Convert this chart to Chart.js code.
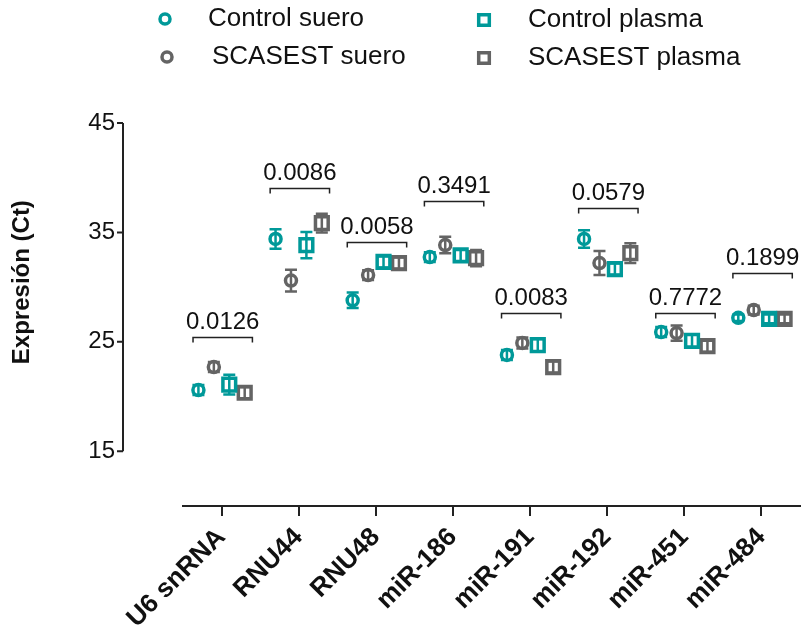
<!DOCTYPE html>
<html>
<head>
<meta charset="utf-8">
<title>Expresión (Ct)</title>
<script src="https://cdn.jsdelivr.net/npm/chart.js@4.4.1/dist/chart.umd.min.js"></script>
<style>
  html, body { margin: 0; padding: 0; background: #fff; }
</style>
</head>
<body>
<canvas id="chart" width="803" height="627"></canvas>
<script>
// datos
const categories = ['U6 snRNA', 'RNU44', 'RNU48', 'miR-186', 'miR-191', 'miR-192', 'miR-451', 'miR-484'];

const controlSuero     = [20.6, 34.4, 28.8, 32.75, 23.8, 34.4, 25.9, 27.2];
const controlSueroErr  = [0.45, 0.9, 0.7, 0.45, 0.45, 0.8, 0.45, 0.3];
const scasestSuero     = [22.7, 30.6, 31.1, 33.85, 24.9, 32.2, 25.8, 27.9];
const scasestSueroErr  = [0.45, 1.0, 0.45, 0.75, 0.5, 1.1, 0.7, 0.4];
const controlPlasma    = [21.1, 33.85, 32.3, 32.9, 24.7, 31.65, 25.1, 27.1];
const controlPlasmaErr = [0.9, 1.2, 0.5, 0.5, 0.55, 0.5, 0.55, 0.4];
const scasestPlasma    = [20.35, 35.85, 32.2, 32.65, 22.7, 33.1, 24.6, 27.1];
const scasestPlasmaErr = [0.5, 0.85, 0.5, 0.75, 0.5, 0.9, 0.5, 0.4];

// p valores y altura (en Ct) de cada corchete
const pValues  = ['0.0126', '0.0086', '0.0058', '0.3491', '0.0083', '0.0579', '0.7772', '0.1899'];
const bracketY = [25.45, 39.1, 34.1, 37.85, 27.65, 37.2, 27.6, 31.3];

const yTicks = [15, 25, 35, 45];

const TEAL = '#009999';
const GREY = '#646464';
const FONT = "'Liberation Sans', Arial, sans-serif";

const series = [
    { label: 'Control suero',   values: controlSuero,  errors: controlSueroErr,  color: TEAL, style: 'circle' },
    { label: 'SCASEST suero',   values: scasestSuero,  errors: scasestSueroErr,  color: GREY, style: 'circle' },
    { label: 'Control plasma',  values: controlPlasma, errors: controlPlasmaErr, color: TEAL, style: 'rect' },
    { label: 'SCASEST plasma',  values: scasestPlasma, errors: scasestPlasmaErr, color: GREY, style: 'rect' }
];
const offsets = [-0.3, -0.1, 0.1, 0.3];

// barras de error (media ± error)
const errorBars = {
    id: 'errorBars',
    afterDatasetsDraw(chart) {
        const ctx = chart.ctx;
        const y = chart.scales.y;
        chart.data.datasets.forEach((ds, k) => {
            const meta = chart.getDatasetMeta(k);
            ctx.save();
            ctx.strokeStyle = ds.borderColor;
            ctx.lineWidth = 2.5;
            meta.data.forEach((pt, i) => {
                const v = ds.data[i].y;
                const e = ds.errors[i];
                const top = y.getPixelForValue(v + e);
                const bot = y.getPixelForValue(v - e);
                ctx.beginPath();
                ctx.moveTo(pt.x, top);
                ctx.lineTo(pt.x, bot);
                ctx.moveTo(pt.x - 6, top);
                ctx.lineTo(pt.x + 6, top);
                ctx.moveTo(pt.x - 6, bot);
                ctx.lineTo(pt.x + 6, bot);
                ctx.stroke();
            });
            ctx.restore();
        });
    }
};

// corchetes con el p valor
const brackets = {
    id: 'brackets',
    afterDatasetsDraw(chart) {
        const ctx = chart.ctx;
        const x = chart.scales.x;
        const y = chart.scales.y;
        ctx.save();
        ctx.strokeStyle = '#222';
        ctx.lineWidth = 1.5;
        ctx.fillStyle = '#111';
        ctx.font = '24px ' + FONT;
        ctx.textAlign = 'center';
        ctx.textBaseline = 'alphabetic';
        pValues.forEach((p, i) => {
            const x0 = x.getPixelForValue(i - 0.37);
            const x1 = x.getPixelForValue(i + 0.4);
            const yy = Math.round(y.getPixelForValue(bracketY[i])) + 0.5;
            ctx.beginPath();
            ctx.moveTo(x0, yy + 5);
            ctx.lineTo(x0, yy);
            ctx.lineTo(x1, yy);
            ctx.lineTo(x1, yy + 5);
            ctx.stroke();
            ctx.fillText(p, (x0 + x1) / 2, yy - 9);
        });
        ctx.restore();
    }
};

// eje Y separado (estilo Prism), título y leyenda
const decorations = {
    id: 'decorations',
    afterDraw(chart) {
        const ctx = chart.ctx;
        const y = chart.scales.y;
        const ax = chart.chartArea.left - 60;
        ctx.save();
        ctx.strokeStyle = '#222';
        ctx.lineWidth = 2;
        ctx.beginPath();
        ctx.moveTo(ax, y.getPixelForValue(yTicks[0]));
        ctx.lineTo(ax, y.getPixelForValue(yTicks[yTicks.length - 1]));
        yTicks.forEach(t => {
            const py = y.getPixelForValue(t);
            ctx.moveTo(ax - 6, py);
            ctx.lineTo(ax, py);
        });
        ctx.stroke();

        ctx.fillStyle = '#111';
        ctx.font = 'bold 24px ' + FONT;
        ctx.textAlign = 'center';
        ctx.textBaseline = 'middle';
        ctx.translate(22, (y.getPixelForValue(yTicks[0]) + y.getPixelForValue(yTicks[yTicks.length - 1])) / 2 - 5);
        ctx.rotate(-Math.PI / 2);
        ctx.fillText('Expresión (Ct)', 0, 0);
        ctx.restore();

        // leyenda 2x2
        const spots = [
            { mx: 165, tx: 208, y: 19 },
            { mx: 167, tx: 212, y: 57 },
            { mx: 484, tx: 528, y: 20 },
            { mx: 484, tx: 528, y: 58 }
        ];
        ctx.save();
        ctx.font = '26px ' + FONT;
        ctx.textAlign = 'left';
        ctx.textBaseline = 'middle';
        chart.data.datasets.forEach((ds, k) => {
            const s = spots[k];
            ctx.strokeStyle = ds.borderColor;
            ctx.fillStyle = '#fff';
            ctx.lineWidth = 3.5;
            Chart.helpers.drawPoint(ctx, {
                pointStyle: ds.pointStyle,
                radius: ds.pointStyle === 'circle' ? 5 : 7.5,
                borderWidth: 3.5,
                rotation: 0
            }, s.mx, s.y);
            ctx.fillStyle = '#111';
            ctx.fillText(ds.label, s.tx, s.y);
        });
        ctx.restore();
    }
};

new Chart(document.getElementById('chart'), {
    type: 'scatter',
    data: {
        datasets: series.map((s, k) => ({
            label: s.label,
            data: s.values.map((v, i) => ({ x: i + offsets[k], y: v })),
            errors: s.errors,
            pointStyle: s.style,
            pointRadius: s.style === 'circle' ? 5.5 : 9,
            pointHoverRadius: s.style === 'circle' ? 5.5 : 9,
            pointBorderWidth: 3.5,
            pointHoverBorderWidth: 3.5,
            borderColor: s.color,
            backgroundColor: '#fff',
            showLine: false
        }))
    },
    options: {
        responsive: false,
        animation: false,
        layout: { autoPadding: false, padding: { top: 123, right: 3, left: 0, bottom: 0 } },
        plugins: {
            legend: { display: false },
            tooltip: { enabled: false }
        },
        scales: {
            x: {
                type: 'linear',
                min: -0.5,
                max: 7.5,
                afterBuildTicks: scale => {
                    scale.ticks = categories.map((c, i) => ({ value: i }));
                },
                afterFit: scale => {
                    scale.height = 121;
                    scale.paddingLeft = 0;
                    scale.paddingRight = 0;
                },
                border: { display: true, color: '#222', width: 2 },
                grid: {
                    display: true,
                    drawOnChartArea: false,
                    drawTicks: true,
                    tickLength: 10,
                    color: '#222',
                    lineWidth: 2
                },
                ticks: {
                    autoSkip: false,
                    minRotation: 45,
                    maxRotation: 45,
                    padding: 6,
                    color: '#111',
                    font: { family: FONT, size: 26, weight: 'bold' },
                    callback: value => categories[value]
                }
            },
            y: {
                min: 10,
                max: 45,
                afterBuildTicks: scale => {
                    scale.ticks = yTicks.map(v => ({ value: v }));
                },
                afterFit: scale => { scale.width = 183; },
                border: { display: false },
                grid: { display: false, drawTicks: false },
                ticks: {
                    padding: 68,
                    color: '#111',
                    font: { family: FONT, size: 24 }
                }
            }
        }
    },
    plugins: [errorBars, brackets, decorations]
});
</script>
</body>
</html>
